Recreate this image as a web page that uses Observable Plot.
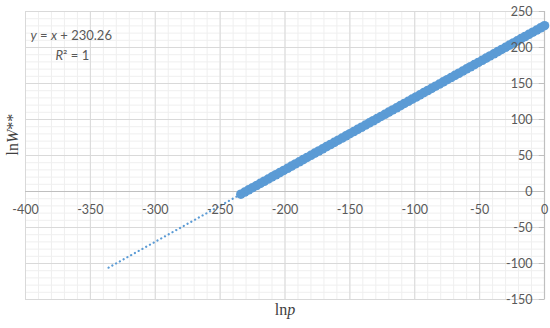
<!DOCTYPE html>
<html><head><meta charset="utf-8">
<script src="https://cdn.jsdelivr.net/npm/d3@7"></script>
<script src="https://cdn.jsdelivr.net/npm/@observablehq/plot@0.6"></script>
<style>body{margin:0;background:#fff}</style>
</head><body><div id="chart"></div>
<script>
const lnp = [-234,-231,-228,-225,-222,-219,-216,-213,-210,-207,-204,-201,-198,-195,-192,-189,-186,-183,-180,-177,-174,-171,-168,-165,-162,-159,-156,-153,-150,-147,-144,-141,-138,-135,-132,-129,-126,-123,-120,-117,-114,-111,-108,-105,-102,-99,-96,-93,-90,-87,-84,-81,-78,-75,-72,-69,-66,-63,-60,-57,-54,-51,-48,-45,-42,-39,-36,-33,-30,-27,-24,-21,-18,-15,-12,-9,-6,-3,0];
const lnW = [-3.74,-0.74,2.26,5.26,8.26,11.26,14.26,17.26,20.26,23.26,26.26,29.26,32.26,35.26,38.26,41.26,44.26,47.26,50.26,53.26,56.26,59.26,62.26,65.26,68.26,71.26,74.26,77.26,80.26,83.26,86.26,89.26,92.26,95.26,98.26,101.26,104.26,107.26,110.26,113.26,116.26,119.26,122.26,125.26,128.26,131.26,134.26,137.26,140.26,143.26,146.26,149.26,152.26,155.26,158.26,161.26,164.26,167.26,170.26,173.26,176.26,179.26,182.26,185.26,188.26,191.26,194.26,197.26,200.26,203.26,206.26,209.26,212.26,215.26,218.26,221.26,224.26,227.26,230.26];
const trendX = [-336, 0];
const trendY = [-105.74, 230.26];
const xTicks = [-400,-350,-300,-250,-200,-150,-100,-50,0];
const yTicks = [-150,-100,-50,0,50,100,150,200,250];
const equation = "y = x + 230.26";
const rSquared = "R² = 1";

const points = lnp.map((x, i) => ({x, y: lnW[i]}));
const trend = trendX.map((x, i) => ({x, y: trendY[i]}));
const minorX = d3.range(-400, 1, 10);
const minorY = d3.range(-150, 251, 10);
const labelFont = "Lato, 'Liberation Sans', sans-serif";
const grey = "#595959";

const chart = Plot.plot({
  width: 550, height: 328,
  marginLeft: 25, marginRight: 6, marginTop: 11, marginBottom: 29,
  x: {domain: [-400, 0], axis: null},
  y: {domain: [-150, 250], axis: null},
  style: {fontFamily: labelFont, background: "#fff"},
  marks: [
    Plot.ruleX(minorX, {stroke: "#efefef", strokeWidth: 1}),
    Plot.ruleY(minorY, {stroke: "#efefef", strokeWidth: 1}),
    Plot.ruleX(xTicks, {stroke: "#d9d9d9", strokeWidth: 1}),
    Plot.ruleY(yTicks, {stroke: "#d9d9d9", strokeWidth: 1}),
    Plot.frame({stroke: "#d9d9d9"}),
    Plot.ruleY([0], {stroke: "#bfbfbf", strokeWidth: 1.2}),
    Plot.ruleX([0], {stroke: "#bfbfbf", strokeWidth: 1.2}),
    Plot.ruleY(yTicks, {y: d => d, x1: -4, x2: 0, stroke: "#bfbfbf"}),
    Plot.line(trend, {x: "x", y: "y", stroke: "#5b9bd5", strokeWidth: 2.2, strokeDasharray: "0.1 4.2", strokeLinecap: "round"}),
    Plot.dot(points, {x: "x", y: "y", r: 4.8, fill: "#5b9bd5", stroke: "none"}),
    Plot.text(yTicks, {x: 0, y: d => d, text: d => String(d), textAnchor: "end", dx: -12, fill: grey, fontSize: 12.5}),
    Plot.text(xTicks, {x: d => d, y: 0, text: d => String(d), dy: 18, fill: grey, fontSize: 12.5}),
    Plot.text([equation], {frameAnchor: "top-left", dx: 5, dy: 19, textAnchor: "start", fill: grey, fontSize: 13, className: "eq1"}),
    Plot.text([rSquared], {frameAnchor: "top-left", dx: 30, dy: 39, textAnchor: "start", fill: grey, fontSize: 13, className: "eq2"}),
    Plot.text(["lnW**"], {frameAnchor: "left", dx: -13, rotate: -90, fill: "#404040", fontSize: 16, fontFamily: "'Liberation Serif', serif", className: "ytitle"}),
    Plot.text(["lnp"], {frameAnchor: "bottom", dy: 15, fill: "#404040", fontSize: 16, fontFamily: "'Liberation Serif', serif", className: "xtitle"})
  ]
});
document.getElementById("chart").appendChild(chart);

function rich(cls, parts) {
  const t = d3.select(chart).select("g." + cls + " text");
  t.text(null);
  for (const [s, it] of parts) t.append("tspan").attr("font-style", it ? "italic" : "normal").text(s);
}
rich("eq1", [["y", true], [" = ", false], ["x", true], [" + 230.26", false]]);
rich("eq2", [["R", true], ["² = 1", false]]);
rich("ytitle", [["ln", false], ["W", true], ["**", false]]);
rich("xtitle", [["ln", false], ["p", true]]);
</script></body></html>
